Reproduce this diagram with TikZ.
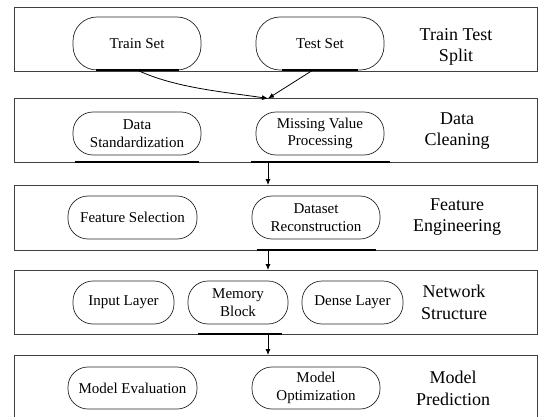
\documentclass[tikz,border=0pt]{standalone}
\usepackage{fontspec}
\setmainfont{Liberation Serif}
\usetikzlibrary{arrows.meta,calc}
\begin{document}
\begin{tikzpicture}[x=1pt,y=-1pt,
  stage/.style={draw=black!75,line width=0.8pt,rectangle,minimum width=523pt,inner sep=0pt,outer sep=0pt},
  pill/.style={draw=black!85,line width=0.7pt,rounded corners=20pt,inner sep=0pt,outer sep=0pt,
     align=center,font=\fontsize{15}{17.5}\selectfont,minimum height=43pt,minimum width=128pt},
  lbl/.style={align=center,font=\fontsize{18}{21.5}\selectfont,inner sep=0pt},
  uline/.style={line width=2pt,black},
  arr/.style={line width=0.8pt,-{Latex[length=6pt,width=5pt]}}]
\useasboundingbox (0,0) rectangle (538,417);
% stage boxes
\node[stage,minimum height=64pt] (b1) at (275.5,39) {};
\node[stage,minimum height=63.5pt] (b2) at (275.5,130.25) {};
\node[stage,minimum height=65pt] (b3) at (275.5,217.5) {};
\node[stage,minimum height=64pt] (b4) at (275.5,302) {};
\node[stage,minimum height=70pt] (b5) at (275.5,390) {};
\coordinate (mx) at (268,0);
% stage labels
\node[lbl] (l1) at (456,47) {Train Test\\Split};
\node[lbl] (l2) at (457,131) {Data\\Cleaning};
\node[lbl] (l3) at (457,217) {Feature\\Engineering};
\node[lbl] (l4) at (454,302.5) {Network\\Structure};
\node[lbl] (l5) at (453,388.5) {Model\\Prediction};
% pills
\node[pill,minimum height=53pt,rounded corners=24pt] (train) at (137,43.5) {Train Set};
\node[pill,minimum height=53pt,rounded corners=24pt] (test) at (320,43.5) {Test Set};
\node[pill] (std) at (137,133.5) {Data\\Standardization};
\node[pill] (mis) at (320,133.5) {Missing Value\\Processing};
\node[pill,minimum width=129pt] (fs) at (132.5,217.5) {Feature Selection};
\node[pill] (dr) at (316,217.5) {Dataset\\Reconstruction};
\node[pill,minimum width=101pt] (il) at (123.5,302.5) {Input Layer};
\node[pill,minimum width=100pt] (mb) at (238,302.5) {Memory\\Block};
\node[pill,minimum width=101pt] (dl) at (352.5,302.5) {Dense Layer};
\node[pill,minimum width=129pt,minimum height=42pt] (me) at (132.5,388) {Model Evaluation};
\node[pill,minimum height=42pt] (mo) at (316,388) {Model\\Optimization};
% underlines
\draw[uline] (96,70) -- (179,70);
\draw[uline] (282,70) -- (358,70);
\draw[uline] (75,162) -- (199,162);
\draw[uline] (251,162) -- (390,162);
\draw[uline] (257,250) -- (376,250);
\draw[uline] (198,334) -- (282,334);
% connectors
\draw[arr] (train.south) .. controls (175,88) and (225,92) .. (b2.north -| mx);
\draw[arr] ([xshift=-7pt]test.south) -- (b2.north -| mx);
\draw[arr] (b2.south -| mx) -- (b3.north -| mx);
\draw[arr] (b3.south -| mx) -- (b4.north -| mx);
\draw[arr] (b4.south -| mx) -- (b5.north -| mx);
\end{tikzpicture}
\end{document}
